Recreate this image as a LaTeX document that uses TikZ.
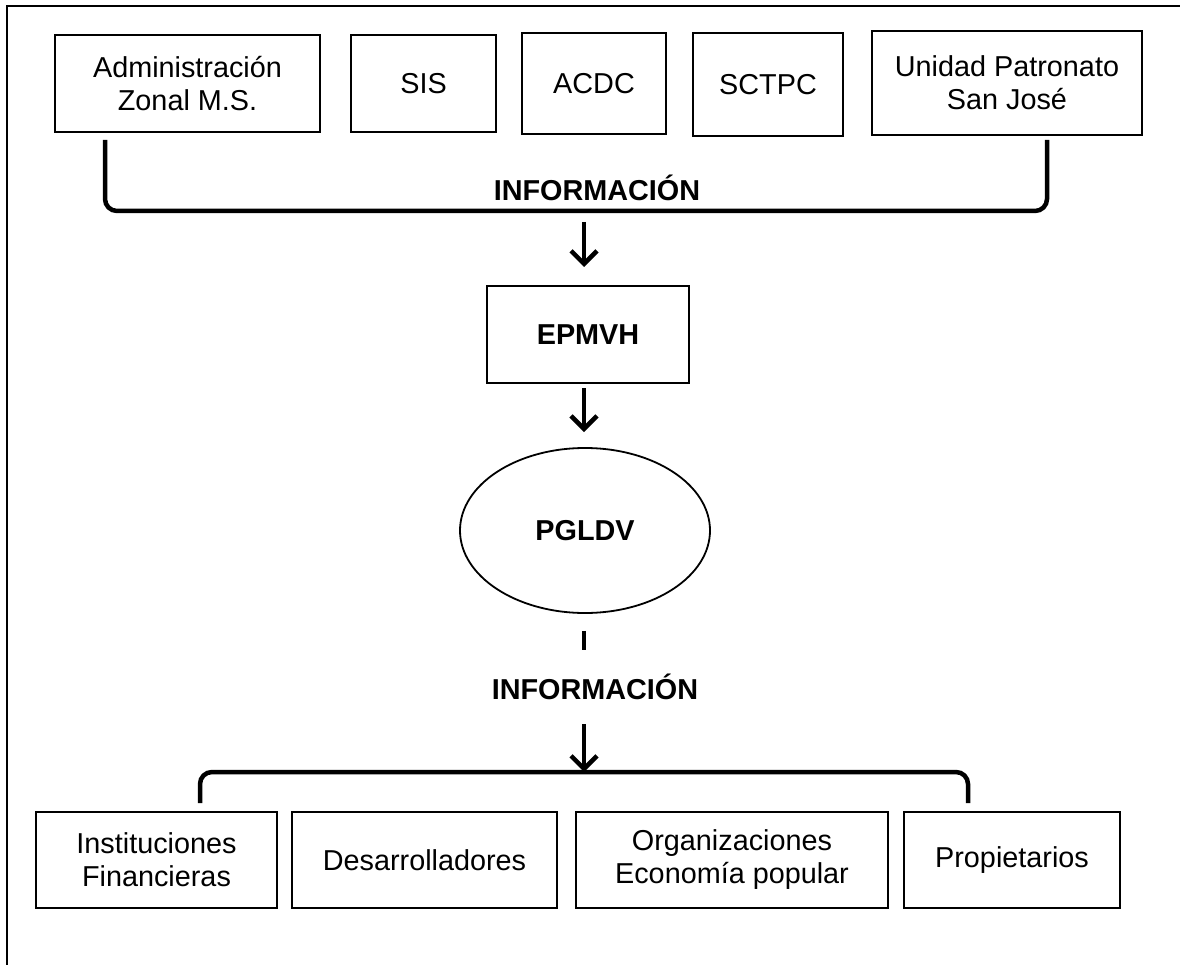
\documentclass[tikz,border=0pt]{standalone}
\usepackage{fontspec}
\setmainfont{Liberation Sans}
\usetikzlibrary{arrows.meta,shapes.geometric}
\begin{document}
\begin{tikzpicture}[x=1pt,y=-1pt,
  box/.style={draw, line width=2pt, rectangle, align=center, inner sep=0pt,
    minimum height=97pt, font=\fontsize{28.8}{33}\selectfont},
  lbl/.style={font=\fontsize{28.8}{33}\selectfont\bfseries, inner sep=0pt},
  conn/.style={line width=4.5pt, rounded corners=12pt},
  arr/.style={line width=4.5pt, -{Straight Barb[length=13pt,width=26pt]}},
]
\useasboundingbox (0,0) rectangle (1180,965);
% frame
\draw[line width=2pt] (1180,6) -- (7,6) -- (7,965);
% top boxes
\node[box, minimum width=265pt] (admin) at (187.5,83.5) {Administración\\Zonal M.S.};
\node[box, minimum width=145pt] (sis) at (423.5,83.5) {SIS};
\node[box, minimum width=144pt, minimum height=101pt] (acdc) at (594,84) {ACDC};
\node[box, minimum width=150pt, minimum height=103pt] (sctpc) at (768,84.5) {SCTPC};
\node[box, minimum width=270pt, minimum height=104pt] (unidad) at (1007,83) {Unidad Patronato\\San José};
% top bracket
\coordinate (t1) at (105,140);
\coordinate (t2) at (105,211);
\coordinate (t3) at (1047,211);
\coordinate (t4) at (1047,140);
\draw[conn] (t1) -- (t2) -- (t3) -- (t4);
\node[lbl] (info1) at (597,188) {INFORMACIÓN};
% EPMVH
\coordinate (a1) at (584,222);
\node[box, lbl, draw, line width=2pt, minimum width=202pt, minimum height=97pt] (epmvh) at (588,334.5) {EPMVH};
\draw[arr, shorten >=18pt] (a1) -- (a1 |- epmvh.north);
% PGLDV
\node[draw, ellipse, line width=1.8pt, minimum width=250pt, minimum height=165pt, inner sep=0pt,
  font=\fontsize{28.8}{33}\selectfont\bfseries] (pgldv) at (585,530.5) {PGLDV};
\draw[arr, shorten <=4pt, shorten >=15pt] (a1 |- epmvh.south) -- (a1 |- pgldv.north);
% short segment
\coordinate (s1) at (584,650);
\draw[line width=4.5pt, shorten <=17pt] (s1 |- pgldv.south) -- (s1);
\node[lbl] (info2) at (595,687) {INFORMACIÓN};
% bottom arrow and bracket
\coordinate (a3) at (584,724);
\coordinate (b2) at (200,803);
\coordinate (b3) at (200,772);
\coordinate (b4) at (968,772);
\coordinate (b5) at (968,803);
\draw[conn] (b2) -- (b3) -- (b4) -- (b5);
\draw[arr] (a3) -- (a3 |- b3);
% bottom boxes
\node[box, minimum width=241pt, minimum height=96pt] (inst) at (156.5,860) {Instituciones\\Financieras};
\node[box, minimum width=265pt, minimum height=96pt] (desa) at (424.5,860) {Desarrolladores};
\node[box, minimum width=312pt, minimum height=96pt] (org) at (732,860) {Organizaciones\\Economía popular};
\node[box, minimum width=216pt, minimum height=96pt] (prop) at (1012,860) {Propietarios};
\end{tikzpicture}
\end{document}
